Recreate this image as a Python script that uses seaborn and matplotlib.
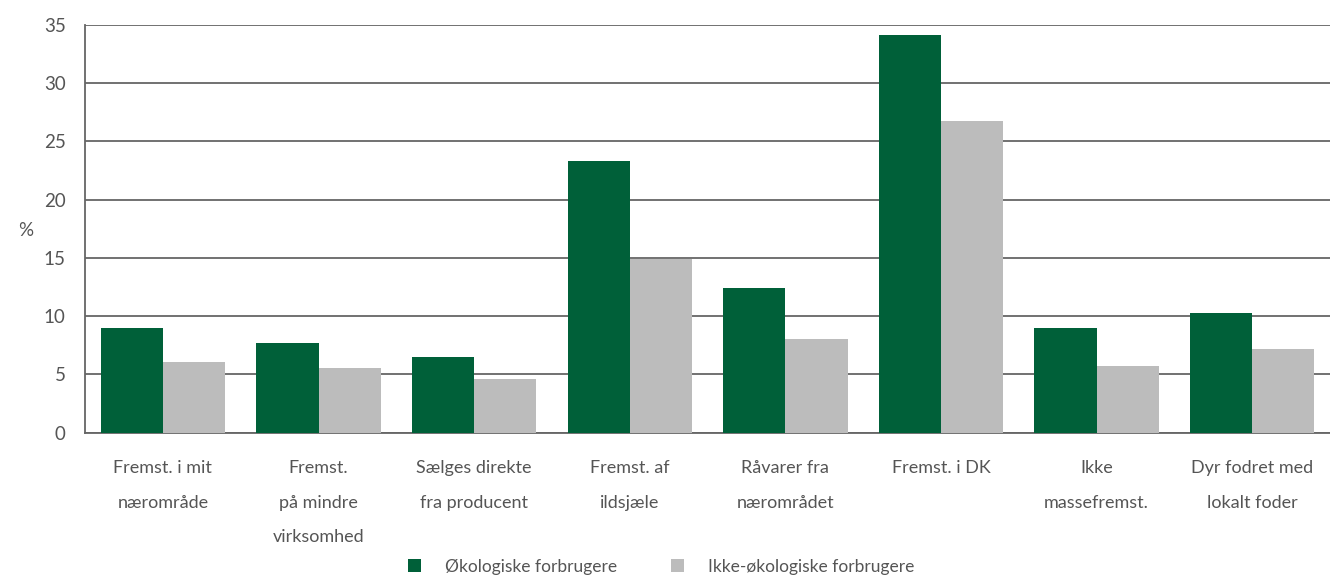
import matplotlib
matplotlib.use("Agg")
import matplotlib.pyplot as plt
import seaborn as sns
import pandas as pd
import numpy as np

# --- DATA ---
categories = [
    "Fremst. i mit\nnærområde",
    "Fremst.\npå mindre\nvirksomhed",
    "Sælges direkte\nfra producent",
    "Fremst. af\nildsjæle",
    "Råvarer fra\nnærområdet",
    "Fremst. i DK",
    "Ikke\nmassefremst.",
    "Dyr fodret med\nlokalt foder",
]
series_names = ["Økologiske forbrugere", "Ikke-økologiske forbrugere"]
oeko = [9.0, 7.7, 6.5, 23.3, 12.4, 34.1, 9.0, 10.3]
ikke_oeko = [6.1, 5.5, 4.6, 14.9, 8.0, 26.7, 5.7, 7.2]
y_ticks = [0, 5, 10, 15, 20, 25, 30, 35]

df = pd.DataFrame({
    "kategori": categories * 2,
    "gruppe": [series_names[0]] * len(categories) + [series_names[1]] * len(categories),
    "pct": oeko + ikke_oeko,
})

green = "#006039"
grey = "#bcbcbc"
txt = "#555555"
line_col = "#666666"

sns.set_theme(style="white")
plt.rcParams["font.family"] = ["Lato", "DejaVu Sans"]

fig = plt.figure(figsize=(13.3, 5.76), dpi=100)
ax = fig.add_axes([0.064, 0.249, 0.936, 0.708])

sns.barplot(data=df, x="kategori", y="pct", hue="gruppe", order=categories,
            hue_order=series_names, palette=[green, grey], width=0.8,
            saturation=1, gap=0, linewidth=0, edgecolor="none", ax=ax, zorder=3)

ax.set_ylim(0, 35)
ax.set_yticks(y_ticks)
ax.set_xlim(-0.5, len(categories) - 0.5)
ax.yaxis.grid(True, color=line_col, linewidth=1.3, zorder=0)
ax.set_axisbelow(True)

for s in ["top", "right"]:
    ax.spines[s].set_visible(False)
for s in ["left", "bottom"]:
    ax.spines[s].set_color(line_col)
    ax.spines[s].set_linewidth(1.3)

ax.set_xticks(range(len(categories)))
ax.set_xticklabels(categories)
ax.tick_params(axis="y", length=0, labelsize=13.5, labelcolor=txt, pad=14)
ax.tick_params(axis="x", which="major", length=0, labelsize=13, labelcolor=txt, pad=20)
for lbl in ax.get_xticklabels():
    lbl.set_linespacing(2.4)
    lbl.set_verticalalignment("top")
ax.set_xticks(np.arange(0.5, len(categories) - 0.5, 1), minor=True)
ax.tick_params(axis="x", which="minor", direction="in", length=7, width=1.3, color=line_col)

ax.set_xlabel("")
ax.set_ylabel("%", rotation=0, fontsize=13.5, color=txt)
ax.yaxis.set_label_coords(-0.048, 0.475)

handles, labels = ax.get_legend_handles_labels()
ax.get_legend().remove()
fig.legend(handles, labels, loc="lower center", bbox_to_anchor=(0.497, -0.025), ncol=2,
           frameon=False, fontsize=12.5, labelcolor=txt, handlelength=0.75,
           handleheight=0.75, handletextpad=1.4, columnspacing=3.1)

fig.savefig("out.png", dpi=100)
